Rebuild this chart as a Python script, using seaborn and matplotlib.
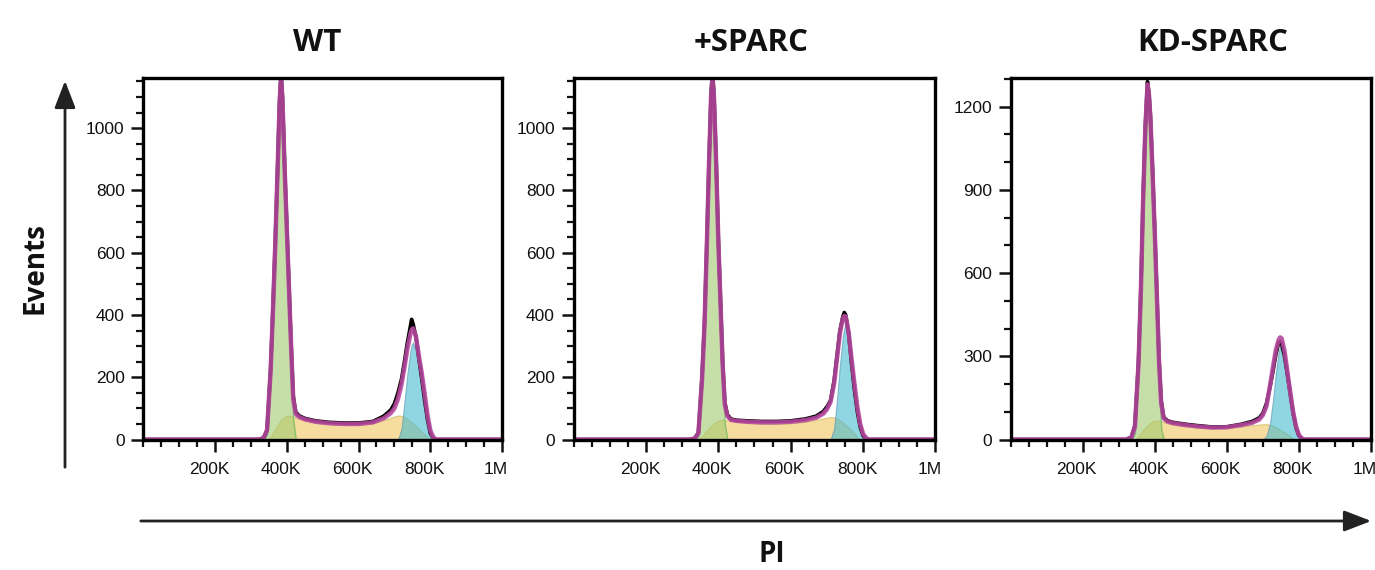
import numpy as np
import pandas as pd
import matplotlib
matplotlib.use("Agg")
import matplotlib.pyplot as plt
import matplotlib.transforms as mtransforms
from matplotlib.patches import FancyArrowPatch
from matplotlib.ticker import MultipleLocator, FixedLocator
import seaborn as sns

sns.set_style("ticks")
plt.rcParams["font.family"] = ["Liberation Sans", "DejaVu Sans"]

# PI channel (thousands) - shared grid for all three histograms
PI_K = [0, 320, 335, 345, 355, 362, 368, 374, 380, 384,
        388, 394, 400, 406, 412, 418, 425, 435, 450, 480,
        520, 560, 600, 640, 670, 690, 700, 710, 720, 728,
        736, 744, 748, 752, 760, 768, 776, 784, 792, 800,
        808, 816, 830, 1000]

TITLES = ["WT", "+SPARC", "KD-SPARC"]

# WT
WT_EVENTS = [0, 0, 5, 30, 230, 440, 640, 860, 1090, 1175,
             1100, 880, 690, 500, 310, 140, 88, 76, 68, 60,
             55, 53, 53, 58, 75, 95, 115, 150, 195, 250,
             310, 360, 386, 372, 330, 262, 198, 128, 66, 20,
             5, 0, 0, 0]
WT_FIT = [0, 0, 3, 30, 220, 430, 630, 850, 1080, 1165,
          1090, 870, 680, 490, 300, 130, 82, 72, 65, 57,
          52, 50, 50, 55, 68, 85, 100, 130, 178, 232,
          290, 335, 352, 357, 332, 270, 215, 150, 80, 30,
          8, 0, 0, 0]
WT_G1 = [0, 0, 0, 15, 190, 380, 560, 780, 1000, 1113,
         1030, 850, 655, 458, 262, 65] + [0] * 28
WT_S = [0, 0, 0, 0, 8, 22, 34, 46, 56, 62,
        67, 72, 76, 77, 76, 74, 71, 67, 62, 55,
        49, 47, 47, 52, 62, 70, 74, 77, 76, 72,
        66, 59, 55, 51, 43, 34, 25, 16, 8, 2,
        0, 0, 0, 0]
WT_G2 = [0] * 28 + [35, 120, 210, 280, 303, 312, 285, 225, 170, 110,
                    55, 15, 0, 0, 0, 0]

# +SPARC
SP_EVENTS = [0, 0, 4, 22, 200, 380, 620, 880, 1110, 1180,
             1110, 900, 650, 450, 250, 120, 80, 66, 62, 60,
             58, 58, 60, 66, 75, 90, 105, 125, 190, 270,
             350, 395, 408, 400, 340, 245, 160, 90, 40, 12,
             3, 0, 0, 0]
SP_FIT = [0, 0, 3, 20, 190, 370, 610, 870, 1100, 1165,
          1100, 890, 640, 440, 240, 112, 75, 63, 60, 57,
          55, 55, 57, 62, 70, 83, 97, 120, 180, 262,
          342, 388, 397, 395, 345, 260, 180, 105, 50, 18,
          5, 0, 0, 0]
SP_G1 = [0, 0, 0, 10, 170, 350, 580, 830, 1050, 1122,
         1050, 840, 590, 390, 190, 50] + [0] * 28
SP_S = [0, 0, 0, 0, 10, 20, 28, 36, 43, 48,
        52, 57, 60, 63, 64, 63, 62, 60, 57, 53,
        50, 50, 52, 57, 63, 68, 70, 72, 71, 67,
        61, 54, 50, 46, 38, 29, 19, 8, 2, 0,
        0, 0, 0, 0]
SP_G2 = [0] * 28 + [35, 130, 240, 330, 358, 368, 310, 205, 125, 65,
                    25, 5, 0, 0, 0, 0]

# KD-SPARC
KD_EVENTS = [0, 0, 8, 50, 280, 560, 880, 1130, 1290, 1250,
             1170, 975, 760, 530, 290, 140, 80, 68, 62, 56,
             50, 45, 46, 55, 65, 78, 95, 130, 190, 245,
             305, 350, 354, 345, 300, 235, 165, 95, 42, 14,
             3, 0, 0, 0]
KD_FIT = [0, 0, 6, 45, 270, 550, 870, 1120, 1280, 1245,
          1160, 965, 750, 520, 280, 130, 76, 65, 59, 53,
          47, 43, 44, 52, 60, 72, 88, 120, 195, 260,
          322, 360, 368, 365, 320, 245, 170, 100, 48, 16,
          4, 0, 0, 0]
KD_G1 = [0, 0, 0, 20, 230, 480, 790, 1050, 1224, 1180,
         1090, 890, 660, 440, 210, 40] + [0] * 28
KD_S = [0, 0, 0, 0, 12, 24, 34, 43, 51, 56,
        60, 65, 68, 69, 68, 66, 63, 59, 54, 48,
        43, 41, 43, 47, 51, 54, 55, 55, 53, 49,
        44, 38, 35, 32, 26, 19, 12, 4, 0, 0,
        0, 0, 0, 0]
KD_G2 = [0] * 26 + [0, 12, 60, 140, 240, 315, 334, 338, 300, 235,
                    165, 95, 40, 5, 0, 0, 0, 0]

YMAX = [1160, 1160, 1302]
YTICKS = [[0, 200, 400, 600, 800, 1000], [0, 200, 400, 600, 800, 1000],
          [0, 300, 600, 900, 1200]]
YMINOR = [50, 50, 100]
XTICKS = [200000, 400000, 600000, 800000, 1000000]
XTICKLABELS = ["200K", "400K", "600K", "800K", "1M"]
TITLE_X = [0.486, 0.490, 0.562]

data = [
    (WT_EVENTS, WT_FIT, WT_G1, WT_S, WT_G2),
    (SP_EVENTS, SP_FIT, SP_G1, SP_S, SP_G2),
    (KD_EVENTS, KD_FIT, KD_G1, KD_S, KD_G2),
]

W, H = 1375, 570
fig = plt.figure(figsize=(W / 100, H / 100), dpi=100)
boxes = [(143.3, 358.7), (573.5, 362.0), (1010.5, 360.5)]
bottom, top = 439.5, 78.3

label_font = ["Open Sans", "DejaVu Sans"]

for i, (events, fit, g1, s, g2) in enumerate(data):
    left, width = boxes[i]
    ax = fig.add_axes([left / W, 1 - bottom / H, width / W, (bottom - top) / H])
    df = pd.DataFrame({"PI": np.array(PI_K) * 1000, "events": events, "fit": fit,
                       "g1": g1, "s": s, "g2": g2})

    ax.fill_between(df["PI"], df["s"], color="#f2c55f", alpha=0.6, lw=0.8,
                    edgecolor="#c9b24a", zorder=1)
    ax.fill_between(df["PI"], df["g1"], color="#a0cb70", alpha=0.6, lw=1.0,
                    edgecolor="#4fb34f", zorder=1.1)
    ax.fill_between(df["PI"], df["g2"], color="#44b9cf", alpha=0.6, lw=0.8,
                    edgecolor="#5a8fb0", zorder=1.2)

    sns.lineplot(data=df, x="PI", y="events", ax=ax, color="black", lw=2.6,
                 sort=False, estimator=None, zorder=2)
    sns.lineplot(data=df, x="PI", y="fit", ax=ax, color="#b5489f", lw=3.2,
                 alpha=0.9, sort=False, estimator=None, zorder=2.2)

    ax.set_xlim(0, 1000000)
    ax.set_ylim(0, YMAX[i])
    ax.set_xlabel("")
    ax.set_ylabel("")

    ax.xaxis.set_major_locator(FixedLocator(XTICKS))
    ax.set_xticklabels(XTICKLABELS)
    ax.xaxis.set_minor_locator(MultipleLocator(50000))
    ax.yaxis.set_major_locator(FixedLocator(YTICKS[i]))
    ax.set_yticklabels([str(t) for t in YTICKS[i]])
    ax.yaxis.set_minor_locator(MultipleLocator(YMINOR[i]))

    ax.tick_params(axis="both", which="major", length=8.4, width=1.8,
                   direction="out", labelsize=12.5, colors="#111111")
    ax.tick_params(axis="x", which="major", pad=8)
    ax.tick_params(axis="y", which="major", pad=5)
    ax.tick_params(axis="both", which="minor", length=4.8, width=1.6,
                   direction="out", colors="#111111")

    for sp in ax.spines.values():
        sp.set_visible(True)
        sp.set_linewidth(2.4)
        sp.set_color("black")
        sp.set_zorder(3)

    offset = mtransforms.ScaledTranslation(-6 / 100, 0, fig.dpi_scale_trans)
    for lbl in ax.xaxis.get_majorticklabels():
        lbl.set_transform(lbl.get_transform() + offset)

    ax.set_title(TITLES[i], x=TITLE_X[i], pad=20, fontsize=22.5,
                 fontweight="bold", family=label_font, color="#111111")

fig.text(35 / W, 1 - 268 / H, "Events", rotation=90, ha="center", va="center",
         fontsize=20, fontweight="bold", family=label_font, color="#111111")
fig.text(772 / W, 1 - 555 / H, "PI", ha="center", va="center",
         fontsize=20, fontweight="bold", family=label_font, color="#111111")

fig.add_artist(FancyArrowPatch((65 / W, 1 - 470 / H), (65 / W, 1 - 78 / H),
                               transform=fig.transFigure,
                               arrowstyle="-|>,head_length=0.83,head_width=0.32",
                               mutation_scale=20, lw=2.0, color="#222222"))
fig.add_artist(FancyArrowPatch((138 / W, 1 - 521 / H), (1374 / W, 1 - 521 / H),
                               transform=fig.transFigure,
                               arrowstyle="-|>,head_length=0.83,head_width=0.32",
                               mutation_scale=20, lw=2.0, color="#222222"))

fig.savefig("out.png", dpi=100)
